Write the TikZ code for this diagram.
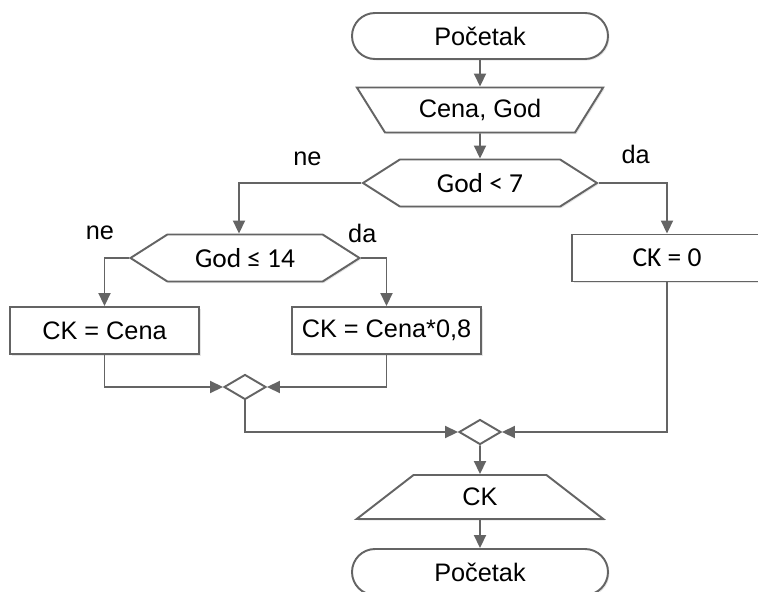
\documentclass[tikz,border=0pt]{standalone}
\usepackage{fontspec}
\setmainfont{Liberation Sans}
\newfontfamily\calfont{Carlito}
\usepackage{tikz}
\usetikzlibrary{shapes.geometric, shapes.misc, shapes.symbols, arrows.meta, positioning, shadows}
\newlength{\pix}
\setlength{\pix}{0.02cm}
\definecolor{linegray}{RGB}{100,100,100}
\tikzstyle{arrow} = [linegray, line width=1.1pt, -{Triangle[width=0.24cm,length=0.26cm]}]
\tikzstyle{line} = [linegray, line width=1.1pt]
\tikzstyle{blk} = [draw=linegray, line width=1.1pt, fill=white, text=black, inner sep=0pt,
    drop shadow={opacity=0.2, shadow xshift=1.5\pix, shadow yshift=-1.5\pix},
    font=\fontsize{14.4pt}{17pt}\selectfont]
\tikzstyle{term} = [blk, rounded rectangle, minimum width=256\pix, minimum height=46\pix]
\tikzstyle{inbox} = [blk, trapezium, shape border rotate=180, trapezium left angle=50,
    trapezium right angle=50, trapezium stretches=true, minimum width=248\pix, minimum height=45\pix]
\tikzstyle{outbox} = [blk, trapezium, trapezium left angle=50, trapezium right angle=50,
    trapezium stretches=true, minimum width=247\pix, minimum height=44\pix]
\tikzstyle{decision} = [blk, signal, signal to=west and east, signal pointer angle=65,
    minimum height=47\pix, font=\calfont\fontsize{15.6pt}{18pt}\selectfont]
\tikzstyle{process} = [blk, rectangle, minimum width=189\pix, minimum height=47\pix]
\tikzstyle{merge} = [draw=linegray, line width=1.1pt, fill=white, diamond, inner sep=0pt,
    minimum width=42\pix, minimum height=25\pix]
\tikzstyle{lbl} = [text=black, inner sep=0pt, anchor=base, font=\fontsize{14.4pt}{17pt}\selectfont]

\begin{document}
\begin{tikzpicture}[x=0.02cm, y=-0.02cm]
    \useasboundingbox (0,0) rectangle (758,592);
    % main column
    \node[term] (start) at (480,36) {Početak};
    \node[inbox, node distance=74\pix, below of=start] (in) {Cena, God};
    \node[decision, minimum width=234\pix, node distance=73\pix, below of=in] (d1) {God < 7};
    % branches
    \node[decision, minimum width=229\pix, node distance=75\pix, below of=d1, xshift=-235\pix] (d2) {God ≤ 14};
    \node[process, minimum width=190\pix, node distance=75\pix, below of=d1, xshift=187\pix,
        font=\calfont\fontsize{15.6pt}{18pt}\selectfont] (b3) {CK = 0};
    \node[process, node distance=72.5\pix, below of=d2, xshift=-140.5\pix] (b1) {CK = Cena};
    \node[process, node distance=72.5\pix, below of=d2, xshift=141.5\pix] (b2) {CK = Cena*0,8};
    % joins
    \node[merge, node distance=129\pix, below of=d2] (m1) {};
    \node[merge, node distance=249\pix, below of=d1] (m2) {};
    \node[outbox, node distance=65\pix, below of=m2] (out) {CK};
    \node[term, node distance=75\pix, below of=out] (stop) {Početak};

    \draw[arrow] (start.south) -- (in.north);
    \draw[arrow] (in.south) -- (d1.north);
    \draw[arrow] (d1.west) -| node[lbl, pos=0.22, yshift=18\pix] {ne} ([xshift=-6\pix]d2.north);
    \draw[arrow] (d1.east) -| node[lbl, pos=0.27, yshift=20\pix] {da} (b3.north);
    \draw[arrow] (d2.west) -| node[lbl, pos=0.5, xshift=-4.5\pix, yshift=19\pix] {ne} (b1.north);
    \draw[arrow] (d2.east) -| node[lbl, pos=0.02, yshift=16\pix] {da} (b2.north);
    \draw[arrow] (b1.south) |- (m1.west);
    \draw[arrow] (b2.south) |- (m1.east);
    \draw[arrow] (m1.south) |- (m2.west);
    \draw[arrow] (b3.south) |- (m2.east);
    \draw[arrow] (m2.south) -- (out.north);
    \draw[arrow] (out.south) -- (stop.north);
\end{tikzpicture}
\end{document}
